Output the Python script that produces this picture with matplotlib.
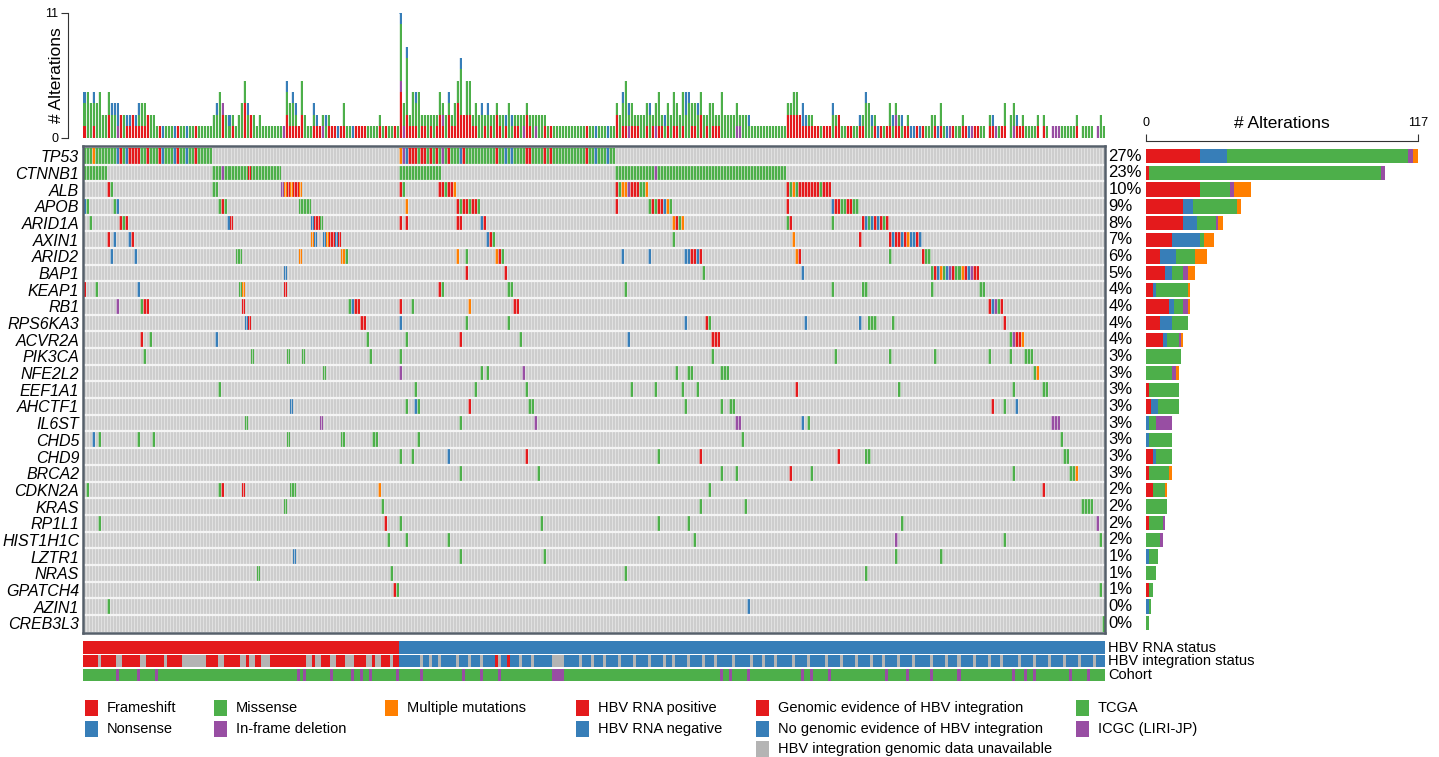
import matplotlib.pyplot as plt
import numpy as np
from matplotlib.colors import to_rgb
from matplotlib.patches import Rectangle
from matplotlib.transforms import blended_transform_factory

plt.rcParams['font.family'] = ['Liberation Sans', 'DejaVu Sans']

n_samples = 340
n_rna_pos = 105  # HBV RNA positive tumours are the first columns

genes = ['TP53', 'CTNNB1', 'ALB', 'APOB', 'ARID1A', 'AXIN1', 'ARID2', 'BAP1',
         'KEAP1', 'RB1', 'RPS6KA3', 'ACVR2A', 'PIK3CA', 'NFE2L2', 'EEF1A1',
         'AHCTF1', 'IL6ST', 'CHD5', 'CHD9', 'BRCA2', 'CDKN2A', 'KRAS', 'RP1L1',
         'HIST1H1C', 'LZTR1', 'NRAS', 'GPATCH4', 'AZIN1', 'CREB3L3']
pct_altered = [27, 23, 10, 9, 8, 7, 6, 5, 4, 4, 4, 4, 3, 3, 3, 3, 3, 3, 3, 3,
               2, 2, 2, 2, 1, 1, 1, 0, 0]

# alteration counts per gene, by type (right-hand bars)
frameshift = [23, 1, 23, 16, 16, 11, 6, 8, 3, 10, 6, 7, 0, 0, 1, 2, 0, 0, 3, 1,
              3, 0, 1, 0, 0, 0, 1, 0, 0]
nonsense = [12, 0, 0, 4, 6, 12, 7, 3, 1, 2, 5, 2, 0, 0, 0, 3, 1, 1, 1, 0,
            0, 0, 0, 0, 1, 0, 0, 1, 0]
missense = [78, 100, 13, 19, 8, 2, 8, 5, 14, 4, 7, 5, 15, 11, 13, 9, 3, 10, 7, 9,
            5, 9, 6, 6, 4, 4, 2, 1, 1]
inframe_del = [2, 2, 2, 0, 1, 0, 0, 2, 0, 2, 0, 1, 0, 2, 0, 0, 7, 0, 0, 0,
               0, 0, 1, 1, 0, 0, 0, 0, 0]
multiple = [2, 0, 7, 2, 2, 4, 5, 3, 1, 1, 0, 1, 0, 1, 0, 0, 0, 0, 0, 1,
            1, 0, 0, 0, 0, 0, 0, 0, 0]

# per-sample alterations: (first sample, codes)
# F frameshift, N nonsense, M missense, D in-frame deletion, X multiple
alterations = {
    'TP53': [(0, 'MMMXMMMMMM' 'MNFMNFFFFM' 'MFMMMFNMMM' 'NFMMNMMFMM' 'MMM'),
             (105, 'XDNFFFMFFM' 'FMFMDMFMMM' 'NFMMMMMMMM' 'MMFMMNMNMM'
                   'MMFFMMMMFM' 'FMMMMMMMMM' 'MMFMMNMMMN' 'MM')],
    'CTNNB1': [(0, 'M' * 8), (43, 'MMMD' + 'M' * 8 + 'F' + 'M' * 10),
               (105, 'M' * 14), (177, 'M' * 13 + 'D' + 'M' * 43)],
    'ALB': [(8, 'FM'), (43, 'MM'), (66, 'DXFXFFX'), (105, 'FM'), (118, 'FFMFFX'),
            (177, 'FMXXDFFFMMX'), (234, 'FMXMFFFFFFFMFFF')],
    'APOB': [(0, 'NM'), (10, 'MN'), (45, 'MFM'), (72, 'MMMM'), (107, 'X'),
             (124, 'FMFFMFFM'), (177, 'F'), (188, 'MFMFFNXM'), (234, 'F'),
             (249, 'NFFMMFFMM')],
    'ARID1A': [(2, 'M'), (12, 'FMF'), (48, 'NF'), (76, 'NFFM'), (105, 'F'),
               (107, 'F'), (124, 'FF'), (132, 'NF'), (196, 'XFMX'), (234, 'MF'),
               (249, 'M'), (259, 'FNMNFNFMF')],
    'AXIN1': [(8, 'F'), (10, 'N'), (15, 'NF'), (76, 'XN'), (80, 'NXFFNF'),
              (134, 'NFM'), (196, 'M'), (236, 'X'), (258, 'F'),
              (268, 'FNFFNFXNNFN')],
    'ARID2': [(9, 'N'), (17, 'N'), (51, 'MM'), (72, 'X'), (86, 'XM'), (124, 'X'),
              (127, 'M'), (137, 'XFM'), (179, 'N'), (188, 'N'), (200, 'NNFFNF'),
              (237, 'XF'), (268, 'M'), (279, 'FMM')],
    'BAP1': [(67, 'N'), (127, 'F'), (140, 'F'), (206, 'M'), (239, 'N'),
             (282, 'MFNXMNDFMMXFNDFF')],
    'KEAP1': [(0, 'F'), (4, 'M'), (18, 'N'), (52, 'MX'), (67, 'F'), (118, 'FM'),
              (141, 'MM'), (180, 'M'), (249, 'M'), (259, 'MM'), (282, 'M'),
              (298, 'MM')],
    'RB1': [(11, 'D'), (19, 'MFF'), (53, 'F'), (88, 'MNFF'), (105, 'F'), (109, 'M'),
            (128, 'X'), (143, 'FF'), (301, 'FNDMF')],
    'RPS6KA3': [(54, 'NF'), (92, 'FF'), (105, 'N'), (127, 'M'), (141, 'M'),
                (200, 'N'), (207, 'FM'), (240, 'N'), (258, 'N'), (261, 'MMM'),
                (269, 'M'), (306, 'F')],
    'ACVR2A': [(19, 'F'), (22, 'M'), (44, 'N'), (94, 'M'), (107, 'M'), (125, 'F'),
               (145, 'M'), (181, 'N'), (209, 'FFF'), (308, 'MDFFX')],
    'PIK3CA': [(20, 'M'), (56, 'M'), (68, 'M'), (73, 'M'), (95, 'M'), (105, 'M'),
               (209, 'M'), (250, 'M'), (268, 'M'), (283, 'M'), (301, 'M'),
               (308, 'M'), (313, 'MMM')],
    'NFE2L2': [(80, 'M'), (105, 'D'), (132, 'M'), (134, 'M'), (146, 'D'),
               (197, 'M'), (201, 'MM'), (212, 'MMM'), (316, 'MX')],
    'EEF1A1': [(45, 'M'), (110, 'M'), (130, 'M'), (147, 'M'), (182, 'M'),
               (190, 'M'), (199, 'M'), (204, 'M'), (237, 'F'), (271, 'M'),
               (309, 'M'), (319, 'MM')],
    'AHCTF1': [(69, 'N'), (107, 'M'), (110, 'NM'), (128, 'F'), (148, 'MM'),
               (200, 'M'), (212, 'M'), (215, 'MM'), (302, 'F'), (306, 'M'),
               (310, 'N')],
    'IL6ST': [(54, 'M'), (79, 'D'), (125, 'M'), (150, 'D'), (217, 'DD'),
              (239, 'N'), (241, 'M'), (322, 'DDD')],
    'CHD5': [(3, 'N'), (5, 'M'), (18, 'M'), (23, 'M'), (68, 'M'), (86, 'M'),
             (96, 'MM'), (111, 'M'), (219, 'M'), (325, 'M')],
    'CHD9': [(105, 'M'), (109, 'M'), (121, 'N'), (147, 'F'), (191, 'M'),
             (205, 'F'), (251, 'F'), (260, 'MM'), (326, 'MM')],
    'BRCA2': [(125, 'M'), (151, 'M'), (212, 'M'), (217, 'M'), (235, 'F'),
              (242, 'M'), (309, 'M'), (328, 'MMX')],
    'CDKN2A': [(1, 'M'), (45, 'MF'), (53, 'F'), (69, 'MM'), (98, 'X'), (208, 'M'),
               (319, 'F')],
    'KRAS': [(67, 'M'), (99, 'M'), (205, 'M'), (220, 'M'), (332, 'MMMM')],
    'RP1L1': [(5, 'M'), (100, 'F'), (105, 'M'), (152, 'M'), (191, 'M'), (201, 'M'),
              (272, 'M'), (337, 'D')],
    'HIST1H1C': [(101, 'M'), (107, 'M'), (121, 'M'), (203, 'M'), (270, 'D'),
                 (306, 'M'), (338, 'M')],
    'LZTR1': [(70, 'N'), (125, 'M'), (153, 'M'), (270, 'M'), (285, 'M')],
    'NRAS': [(58, 'M'), (102, 'M'), (180, 'M'), (260, 'M')],
    'GPATCH4': [(103, 'FM'), (338, 'M')],
    'AZIN1': [(8, 'M'), (221, 'N')],
    'CREB3L3': [(339, 'M')],
}

# HBV integration track: samples lacking genomic data, and
# RNA-negative samples that still show integration
integ_unavailable = [5, 11, 12, 19, 20, 27, 33, 34, 35, 36, 37, 38, 39, 40, 45, 46,
                     52, 53, 55, 56, 59, 60, 61, 74, 75, 77, 78, 82, 83, 87, 88, 89,
                     94, 95, 97, 98, 102,
                     112, 115, 118, 124, 128, 132, 138, 145, 149, 156, 157, 158,
                     159, 165, 169, 173, 178, 183, 188, 193, 196, 201, 206, 210,
                     216, 222, 226, 230, 236, 241, 247, 252, 257, 262, 266, 271,
                     276, 282, 287, 291, 296, 301, 305, 311, 316, 321, 326, 331, 336]
integ_positive_rna_neg = [137, 141]
icgc_samples = [11, 18, 24, 71, 73, 82, 89, 92, 95, 104, 112, 126, 132, 138, 156,
                157, 158, 159, 212, 215, 221, 239, 242, 248, 267, 274, 282, 291,
                309, 313, 316, 328, 334]

red, blue, green = '#e41a1c', '#377eb8', '#4daf4a'
purple, orange, grey = '#984ea3', '#ff7f00', '#cdcdcd'
type_colors = {'F': red, 'N': blue, 'M': green, 'D': purple, 'X': orange}

# gene x sample matrix of alteration codes
n_genes = len(genes)
mat = np.full((n_genes, n_samples), '', dtype=object)
for g, gene in enumerate(genes):
    for start, codes in alterations[gene]:
        for k, c in enumerate(codes):
            mat[g, start + k] = c

W, H = 1439, 757
fig = plt.figure(figsize=(W / 100, H / 100), dpi=100)


def add_axes_px(x0, y0, x1, y1):
    return fig.add_axes([x0 / W, 1 - y1 / H, (x1 - x0) / W, (y1 - y0) / H])


x0_mat, x1_mat = 83.3, 1104.7
xs = np.arange(n_samples)
col_edges = xs[:-1] + 0.5

# ---- top: alterations per sample ----
ax_top = add_axes_px(x0_mat, 12.7, x1_mat, 137.5)
is_x = (mat == 'X')
stack = [((mat == 'F') | is_x, red), (mat == 'D', purple),
         ((mat == 'M') | is_x, green), (mat == 'N', blue)]
bottom = np.zeros(n_samples)
for sel, col in stack:
    h = sel.sum(axis=0)
    ax_top.bar(xs, h, bottom=bottom, width=1.0, color=col, linewidth=0)
    bottom += h
ax_top.vlines(col_edges, 0, 11, color='white', linewidth=0.6)
ax_top.set_xlim(-0.5, n_samples - 0.5)
ax_top.set_ylim(0, 11)
for s in ['top', 'right', 'bottom']:
    ax_top.spines[s].set_visible(False)
ax_top.spines['left'].set_position(('outward', 11))
ax_top.spines['left'].set_color('#333333')
ax_top.set_xticks([])
ax_top.set_yticks([0, 11])
ax_top.tick_params(axis='y', labelsize=9, length=5, pad=2, color='#333333')
fig.text(57 / W, 1 - 75 / H, '# Alterations', rotation=90, fontsize=12.5,
         ha='center', va='center')

# ---- oncoprint matrix ----
ax_mat = add_axes_px(x0_mat, 146.3, x1_mat, 633.3)
ax_mat.set_facecolor('#f2f2f2')
rgb = np.zeros((n_genes, n_samples, 3))
rgb[:] = to_rgb(grey)
for code, col in type_colors.items():
    rgb[mat == code] = to_rgb(col)
ax_mat.imshow(rgb, aspect='auto', interpolation='nearest',
              extent=(-0.5, n_samples - 0.5, n_genes - 0.5, -0.5))
ax_mat.vlines(col_edges, -0.5, n_genes - 0.5, color='#eeeeee', linewidth=0.55,
              alpha=0.8)
ax_mat.hlines(np.arange(n_genes - 1) + 0.5, -0.5, n_samples - 0.5,
              color='#f4f4f4', linewidth=1.6)
ax_mat.set_xlim(-0.5, n_samples - 0.5)
ax_mat.set_ylim(n_genes - 0.4, -0.6)
ax_mat.set_xticks([])
ax_mat.set_yticks(range(n_genes))
ax_mat.set_yticklabels(genes, fontstyle='italic', fontsize=11.5)
ax_mat.tick_params(axis='y', length=0, pad=3)
for s in ax_mat.spines.values():
    s.set_color('#56606b')
    s.set_linewidth(1.8)
tr = blended_transform_factory(ax_mat.transAxes, ax_mat.transData)
for g, p in enumerate(pct_altered):
    ax_mat.text(1.0035, g, f'{p}%', transform=tr, fontsize=12, va='center',
                ha='left')

# ---- right: alterations per gene ----
ax_r = add_axes_px(1146.3, 146.3, 1417.7, 633.3)
ys = np.arange(n_genes)
left = np.zeros(n_genes)
for vals, col in [(frameshift, red), (nonsense, blue), (missense, green),
                  (inframe_del, purple), (multiple, orange)]:
    v = np.array(vals)
    ax_r.barh(ys, v, left=left, height=0.86, color=col, linewidth=0)
    left += v
ax_r.set_xlim(0, 117)
ax_r.set_ylim(n_genes - 0.4, -0.6)
for s in ['bottom', 'left', 'right']:
    ax_r.spines[s].set_visible(False)
ax_r.spines['top'].set_position(('outward', 3.6))
ax_r.spines['top'].set_color('#333333')
ax_r.xaxis.set_ticks_position('top')
ax_r.set_xticks([0, 117])
ax_r.tick_params(axis='x', labelsize=9, length=5, pad=4, color='#333333')
ax_r.set_yticks([])
fig.text(1281.7 / W, 1 - 123 / H, '# Alterations', fontsize=12.5, ha='center',
         va='center')

# ---- annotation tracks ----
ax_a = add_axes_px(x0_mat, 640.7, x1_mat, 681.7)
rna = np.where(xs < n_rna_pos, 'pos', 'neg')
integ = np.where(xs < n_rna_pos, 'pos', 'neg').astype(object)
integ[integ_positive_rna_neg] = 'pos'
integ[integ_unavailable] = 'na'
cohort = np.full(n_samples, 'tcga', dtype=object)
cohort[icgc_samples] = 'icgc'
track_colors = {'pos': red, 'neg': blue, 'na': '#b4b4b4', 'tcga': green,
                'icgc': purple}
for r, track in enumerate([rna, integ, cohort]):
    for key in np.unique(track):
        hits = np.where(track == key)[0]
        ax_a.broken_barh([(i - 0.5, 1.0) for i in hits], (r - 0.46, 0.92),
                         facecolors=track_colors[key], linewidth=0)
ax_a.set_xlim(-0.5, n_samples - 0.5)
ax_a.set_ylim(2.5, -0.5)
ax_a.axis('off')
tr_a = blended_transform_factory(ax_a.transAxes, ax_a.transData)
for r, name in enumerate(['HBV RNA status', 'HBV integration status', 'Cohort']):
    ax_a.text(1.0035, r, name, transform=tr_a, fontsize=10.5, va='center')

# ---- legend ----
legend_items = [
    (84.8, 708, red, 'Frameshift'), (84.8, 729, blue, 'Nonsense'),
    (213.8, 708, green, 'Missense'), (213.8, 729, purple, 'In-frame deletion'),
    (385, 708, orange, 'Multiple mutations'),
    (576, 708, red, 'HBV RNA positive'), (576, 729, blue, 'HBV RNA negative'),
    (756, 708, red, 'Genomic evidence of HBV integration'),
    (756, 729, blue, 'No genomic evidence of HBV integration'),
    (756, 749, '#b4b4b4', 'HBV integration genomic data unavailable'),
    (1076, 708, green, 'TCGA'), (1076, 729, purple, 'ICGC (LIRI-JP)'),
]
for x, y, col, label in legend_items:
    fig.patches.append(Rectangle((x / W, 1 - (y + 8) / H), 13 / W, 16 / H,
                                 transform=fig.transFigure, facecolor=col,
                                 edgecolor='none'))
    fig.text((x + 22) / W, 1 - y / H, label, fontsize=10.5, va='center')

fig.savefig('out.png', dpi=100)
